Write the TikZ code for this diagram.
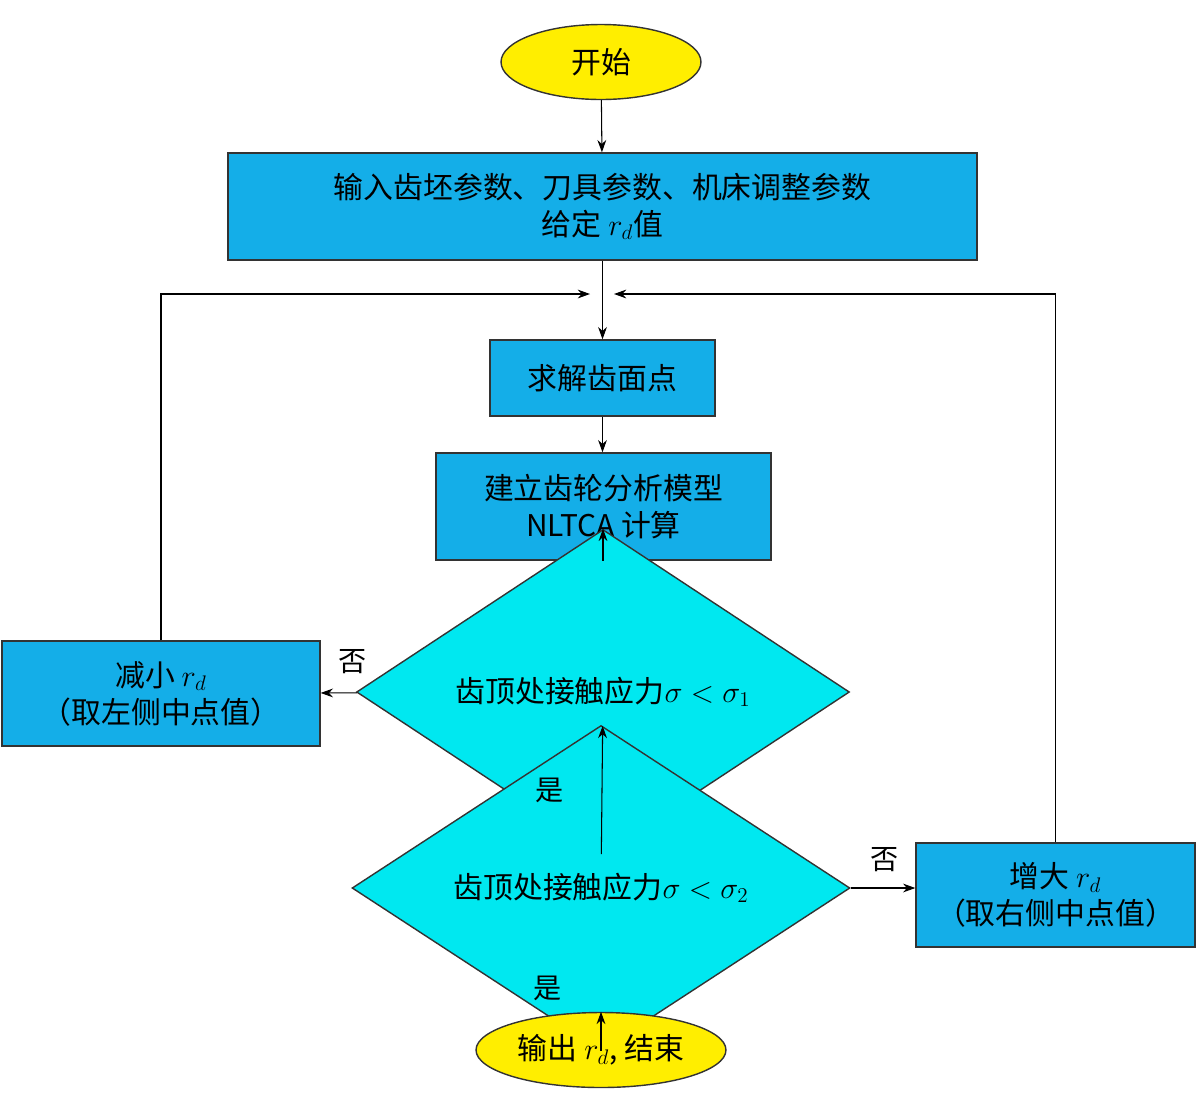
\documentclass[tikz,border=0pt]{standalone}
\usepackage{fontspec}
\setmainfont{Liberation Serif}
\newfontfamily\cjk{Noto Sans CJK SC}[BoldFont={Noto Sans CJK SC Bold}]
\usetikzlibrary{shapes.geometric,arrows.meta}
\definecolor{boxc}{RGB}{20,174,232}
\definecolor{diac}{RGB}{0,232,240}
\definecolor{yel}{RGB}{255,238,0}
\begin{document}
\begin{tikzpicture}[x=0.02cm,y=-0.02cm,
  every node/.style={font=\cjk\fontsize{17}{21}\selectfont, align=center, inner sep=0pt},
  box/.style={draw=black!80, line width=0.8pt, fill=boxc, rectangle},
  dia/.style={draw=black!80, line width=0.8pt, fill=diac, diamond},
  term/.style={draw=black!80, line width=0.8pt, fill=yel, ellipse},
  arr/.style={line width=0.6pt, -{Stealth[length=7pt,width=5pt]}},
  ln/.style={line width=0.6pt},
  lab/.style={font=\cjk\fontsize{16}{18}\selectfont}]
\useasboundingbox (0,0) rectangle (1200,1093);
\node[term, minimum width=4cm, minimum height=1.5cm] (start) at (601,62) {开始};
\node[box, minimum width=14.98cm, minimum height=2.14cm] (b1) at (602.5,206.5) {输入齿坯参数、刀具参数、机床调整参数\\给定 $r_d$值};
\node[box, minimum width=4.5cm, minimum height=1.52cm] (b2) at (602.5,378) {求解齿面点};
\node[box, minimum width=6.7cm, minimum height=2.14cm] (b3) at (603.5,506.5) {建立齿轮分析模型\\NLTCA 计算};
\node[dia, minimum width=9.86cm, minimum height=3.4cm] (d1) at (603,692) {齿顶处接触应力$\sigma<\sigma_1$};
\node[box, minimum width=6.36cm, minimum height=2.1cm] (lb) at (161,693.5) {减小 $r_d$\\（取左侧中点值）};
\node[dia, minimum width=9.96cm, minimum height=3.3cm] (d2) at (601,888) {齿顶处接触应力$\sigma<\sigma_2$};
\node[box, minimum width=5.58cm, minimum height=2.08cm] (rb) at (1055.5,895) {增大 $r_d$\\（取右侧中点值）};
\node[term, minimum width=5cm, minimum height=1.5cm] (end) at (601,1050) {输出 $r_d$, 结束};
\coordinate (jl) at (590,294);
\coordinate (jr) at (614,294);
\draw[arr] (start) -- (b1);
\draw[arr] (b1.south -| b2.north) -- (b2);
\draw[arr] (b2) -- (b3.north -| b2.south);
\draw[arr] (b3.south -| d1.north) -- (d1);
\draw[arr] (d1) -- (lb);
\draw[arr] (d1) -- (d2);
\draw[arr] (d2) -- (rb.west |- d2.east);
\draw[arr] (d2) -- (end);
\draw[arr] (lb.north) |- (jl);
\draw[arr] (rb.north) |- (jr);
\node[lab] (n1) at (353,662) {否};
\node[lab] (y1) at (550,790) {是};
\node[lab] (n2) at (885,860) {否};
\node[lab] (y2) at (548,988) {是};
\end{tikzpicture}
\end{document}
